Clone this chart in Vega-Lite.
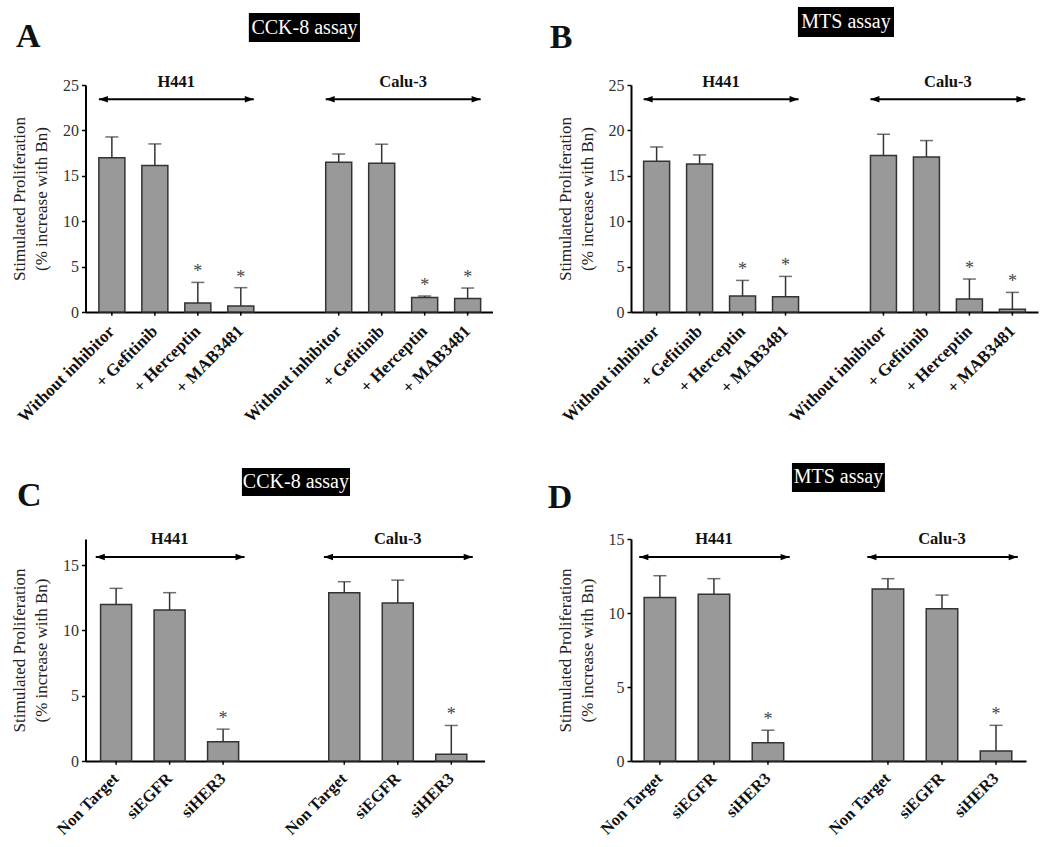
{
  "$schema": "https://vega.github.io/schema/vega-lite/v6.json",
  "background": "white",
  "padding": {"left": 10.5, "top": 7, "right": 5, "bottom": 5},
  "columns": 2,
  "align": "none",
  "bounds": "flush",
  "spacing": {"row": 227, "column": 138.5},
  "resolve": {"scale": {"xOffset": "independent"}},
  "config": {
    "view": {"stroke": null},
    "font": "Liberation Serif",
    "axis": {
      "labelFont": "Liberation Serif", "labelFontSize": 16, "labelColor": "#333333",
      "titleFont": "Liberation Serif", "titleFontSize": 17, "titleFontWeight": "normal", "titleColor": "#222222",
      "titleLineHeight": 22, "titlePadding": 12,
      "domainColor": "#000000", "domainWidth": 2, "tickColor": "#000000", "tickWidth": 1.5, "tickSize": 4,
      "labelPadding": 3, "grid": false
    }
  },
  "concat": [
    {
      "width": 407, "height": 227,
      "data": {"values": [
        {"group": "H441", "treatment": "Without inhibitor", "mean": 17.0, "upper": 19.28, "sig": ""},
        {"group": "H441", "treatment": "+ Gefitinib", "mean": 16.13, "upper": 18.51, "sig": ""},
        {"group": "H441", "treatment": "+ Herceptin", "mean": 0.99, "upper": 3.26, "sig": "*"},
        {"group": "H441", "treatment": "+ MAB3481", "mean": 0.66, "upper": 2.68, "sig": "*"},
        {"group": "Calu-3", "treatment": "Without inhibitor", "mean": 16.5, "upper": 17.41, "sig": ""},
        {"group": "Calu-3", "treatment": "+ Gefitinib", "mean": 16.39, "upper": 18.48, "sig": ""},
        {"group": "Calu-3", "treatment": "+ Herceptin", "mean": 1.61, "upper": 1.76, "sig": "*"},
        {"group": "Calu-3", "treatment": "+ MAB3481", "mean": 1.5, "upper": 2.64, "sig": "*"}
      ]},
      "layer": [
        {"mark": {"type": "bar", "fill": "#999999", "stroke": "#333333", "strokeWidth": 1.5},
         "encoding": {
           "x": {"field": "group", "type": "nominal", "scale": {"domain": ["H441", "Calu-3"], "paddingInner": 0.317, "paddingOuter": 0.0556, "align": 0.53}, "axis": {"title": null, "labels": false, "ticks": false}},
           "xOffset": {"field": "treatment", "type": "nominal", "scale": {"domain": ["Without inhibitor", "+ Gefitinib", "+ Herceptin", "+ MAB3481"], "paddingInner": 0.395, "paddingOuter": 0}},
           "y": {"field": "mean", "type": "quantitative", "scale": {"domain": [0, 25], "nice": false}, "axis": {"title": ["Stimulated Proliferation", "(% increase with Bn)"], "values": [0, 5, 10, 15, 20, 25], "labelFont": "Liberation Serif", "titleFont": "Liberation Serif"}}
         }},
        {"mark": {"type": "rule", "color": "#333333", "strokeWidth": 1.5},
         "encoding": {"x": {"field": "group", "type": "nominal"}, "xOffset": {"field": "treatment", "type": "nominal"}, "y": {"field": "mean", "type": "quantitative"}, "y2": {"field": "upper"}}},
        {"mark": {"type": "tick", "color": "#333333", "thickness": 1.5, "size": 13},
         "encoding": {"x": {"field": "group", "type": "nominal"}, "xOffset": {"field": "treatment", "type": "nominal"}, "y": {"field": "upper", "type": "quantitative"}}},
        {"mark": {"type": "text", "baseline": "alphabetic", "dy": -5, "fontSize": 18, "color": "#444444"},
         "encoding": {"x": {"field": "group", "type": "nominal"}, "xOffset": {"field": "treatment", "type": "nominal"}, "y": {"field": "upper", "type": "quantitative"}, "text": {"field": "sig"}}},
        {"mark": {"type": "rule", "color": "#000000", "strokeWidth": 1.5},
         "encoding": {"x": {"field": "group", "type": "nominal"}, "xOffset": {"field": "treatment", "type": "nominal"}, "y": {"datum": 0, "type": "quantitative"}, "y2": {"datum": -0.4}}},
        {"mark": {"type": "text", "angle": 315, "align": "right", "baseline": "middle", "fontSize": 17, "fontWeight": "bold", "color": "#111111"},
         "encoding": {"x": {"field": "group", "type": "nominal"}, "xOffset": {"field": "treatment", "type": "nominal"}, "y": {"datum": -1.85, "type": "quantitative"}, "text": {"field": "treatment"}}},
        {"data": {"values": [{"group": "H441"}, {"group": "Calu-3"}]},
         "mark": {"type": "rule", "color": "#000000", "strokeWidth": 2},
         "encoding": {"x": {"field": "group", "type": "nominal", "bandPosition": 0}, "x2": {"field": "group", "bandPosition": 1}, "y": {"datum": 23.43, "type": "quantitative"}}},
        {"data": {"values": [{"group": "H441"}, {"group": "Calu-3"}]},
         "mark": {"type": "point", "shape": "M-1,0L1,-0.7L1,0.7Z", "filled": true, "color": "#000000", "opacity": 1, "size": 81},
         "encoding": {"x": {"field": "group", "type": "nominal", "bandPosition": 0.029}, "y": {"datum": 23.43, "type": "quantitative"}}},
        {"data": {"values": [{"group": "H441"}, {"group": "Calu-3"}]},
         "mark": {"type": "point", "shape": "M1,0L-1,-0.7L-1,0.7Z", "filled": true, "color": "#000000", "opacity": 1, "size": 81},
         "encoding": {"x": {"field": "group", "type": "nominal", "bandPosition": 0.971}, "y": {"datum": 23.43, "type": "quantitative"}}},
        {"data": {"values": [{"group": "H441"}, {"group": "Calu-3"}]},
         "mark": {"type": "text", "fontSize": 16.5, "fontWeight": "bold", "color": "#111111", "baseline": "middle"},
         "encoding": {"x": {"field": "group", "type": "nominal"}, "y": {"datum": 25.36, "type": "quantitative"}, "text": {"field": "group"}}},
        {"data": {"values": [{"assay": "CCK-8 assay"}]},
         "mark": {"type": "rect", "fill": "#000000"},
         "encoding": {"x": {"datum": "H441", "type": "nominal", "bandPosition": 0.968}, "x2": {"datum": "Calu-3", "bandPosition": 0.221}, "y": {"datum": 32.93, "type": "quantitative"}, "y2": {"datum": 29.74}}},
        {"data": {"values": [{"assay": "CCK-8 assay"}]},
         "mark": {"type": "text", "fontSize": 20, "color": "#ffffff", "baseline": "middle", "align": "center"},
         "encoding": {"x": {"datum": "Calu-3", "type": "nominal", "bandPosition": -0.137}, "y": {"datum": 31.33, "type": "quantitative"}, "text": {"field": "assay"}}},
        {"data": {"values": [{"panel": "A"}]},
         "mark": {"type": "text", "fontSize": 34, "fontWeight": "bold", "color": "#111111", "align": "left", "baseline": "alphabetic"},
         "encoding": {"x": {"datum": "H441", "type": "nominal", "bandPosition": -0.535}, "y": {"datum": 29.19, "type": "quantitative"}, "text": {"field": "panel"}}}
      ]
    },
    {
      "width": 407, "height": 227,
      "data": {"values": [
        {"group": "H441", "treatment": "Without inhibitor", "mean": 16.6, "upper": 18.18, "sig": ""},
        {"group": "H441", "treatment": "+ Gefitinib", "mean": 16.31, "upper": 17.3, "sig": ""},
        {"group": "H441", "treatment": "+ Herceptin", "mean": 1.76, "upper": 3.48, "sig": "*"},
        {"group": "H441", "treatment": "+ MAB3481", "mean": 1.69, "upper": 3.92, "sig": "*"},
        {"group": "Calu-3", "treatment": "Without inhibitor", "mean": 17.23, "upper": 19.57, "sig": ""},
        {"group": "Calu-3", "treatment": "+ Gefitinib", "mean": 17.08, "upper": 18.88, "sig": ""},
        {"group": "Calu-3", "treatment": "+ Herceptin", "mean": 1.43, "upper": 3.63, "sig": "*"},
        {"group": "Calu-3", "treatment": "+ MAB3481", "mean": 0.29, "upper": 2.16, "sig": "*"}
      ]},
      "layer": [
        {"mark": {"type": "bar", "fill": "#999999", "stroke": "#333333", "strokeWidth": 1.5},
         "encoding": {
           "x": {"field": "group", "type": "nominal", "scale": {"domain": ["H441", "Calu-3"], "paddingInner": 0.317, "paddingOuter": 0.0556, "align": 0.5}, "axis": {"title": null, "labels": false, "ticks": false}},
           "xOffset": {"field": "treatment", "type": "nominal", "scale": {"domain": ["Without inhibitor", "+ Gefitinib", "+ Herceptin", "+ MAB3481"], "paddingInner": 0.395, "paddingOuter": 0}},
           "y": {"field": "mean", "type": "quantitative", "scale": {"domain": [0, 25], "nice": false}, "axis": {"title": ["Stimulated Proliferation", "(% increase with Bn)"], "values": [0, 5, 10, 15, 20, 25], "labelFont": "Liberation Serif", "titleFont": "Liberation Serif"}}
         }},
        {"mark": {"type": "rule", "color": "#333333", "strokeWidth": 1.5},
         "encoding": {"x": {"field": "group", "type": "nominal"}, "xOffset": {"field": "treatment", "type": "nominal"}, "y": {"field": "mean", "type": "quantitative"}, "y2": {"field": "upper"}}},
        {"mark": {"type": "tick", "color": "#333333", "thickness": 1.5, "size": 13},
         "encoding": {"x": {"field": "group", "type": "nominal"}, "xOffset": {"field": "treatment", "type": "nominal"}, "y": {"field": "upper", "type": "quantitative"}}},
        {"mark": {"type": "text", "baseline": "alphabetic", "dy": -5, "fontSize": 18, "color": "#444444"},
         "encoding": {"x": {"field": "group", "type": "nominal"}, "xOffset": {"field": "treatment", "type": "nominal"}, "y": {"field": "upper", "type": "quantitative"}, "text": {"field": "sig"}}},
        {"mark": {"type": "rule", "color": "#000000", "strokeWidth": 1.5},
         "encoding": {"x": {"field": "group", "type": "nominal"}, "xOffset": {"field": "treatment", "type": "nominal"}, "y": {"datum": 0, "type": "quantitative"}, "y2": {"datum": -0.4}}},
        {"mark": {"type": "text", "angle": 315, "align": "right", "baseline": "middle", "fontSize": 17, "fontWeight": "bold", "color": "#111111"},
         "encoding": {"x": {"field": "group", "type": "nominal"}, "xOffset": {"field": "treatment", "type": "nominal"}, "y": {"datum": -1.85, "type": "quantitative"}, "text": {"field": "treatment"}}},
        {"data": {"values": [{"group": "H441"}, {"group": "Calu-3"}]},
         "mark": {"type": "rule", "color": "#000000", "strokeWidth": 2},
         "encoding": {"x": {"field": "group", "type": "nominal", "bandPosition": 0}, "x2": {"field": "group", "bandPosition": 1}, "y": {"datum": 23.43, "type": "quantitative"}}},
        {"data": {"values": [{"group": "H441"}, {"group": "Calu-3"}]},
         "mark": {"type": "point", "shape": "M-1,0L1,-0.7L1,0.7Z", "filled": true, "color": "#000000", "opacity": 1, "size": 81},
         "encoding": {"x": {"field": "group", "type": "nominal", "bandPosition": 0.029}, "y": {"datum": 23.43, "type": "quantitative"}}},
        {"data": {"values": [{"group": "H441"}, {"group": "Calu-3"}]},
         "mark": {"type": "point", "shape": "M1,0L-1,-0.7L-1,0.7Z", "filled": true, "color": "#000000", "opacity": 1, "size": 81},
         "encoding": {"x": {"field": "group", "type": "nominal", "bandPosition": 0.971}, "y": {"datum": 23.43, "type": "quantitative"}}},
        {"data": {"values": [{"group": "H441"}, {"group": "Calu-3"}]},
         "mark": {"type": "text", "fontSize": 16.5, "fontWeight": "bold", "color": "#111111", "baseline": "middle"},
         "encoding": {"x": {"field": "group", "type": "nominal"}, "y": {"datum": 25.36, "type": "quantitative"}, "text": {"field": "group"}}},
        {"data": {"values": [{"assay": "MTS assay"}]},
         "mark": {"type": "rect", "fill": "#000000"},
         "encoding": {"x": {"datum": "H441", "type": "nominal", "bandPosition": 0.996}, "x2": {"datum": "Calu-3", "bandPosition": 0.152}, "y": {"datum": 33.59, "type": "quantitative"}, "y2": {"datum": 30.29}}},
        {"data": {"values": [{"assay": "MTS assay"}]},
         "mark": {"type": "text", "fontSize": 20, "color": "#ffffff", "baseline": "middle", "align": "center"},
         "encoding": {"x": {"datum": "Calu-3", "type": "nominal", "bandPosition": -0.158}, "y": {"datum": 31.94, "type": "quantitative"}, "text": {"field": "assay"}}},
        {"data": {"values": [{"panel": "B"}]},
         "mark": {"type": "text", "fontSize": 34, "fontWeight": "bold", "color": "#111111", "align": "left", "baseline": "alphabetic"},
         "encoding": {"x": {"datum": "H441", "type": "nominal", "bandPosition": -0.606}, "y": {"datum": 29.07, "type": "quantitative"}, "text": {"field": "panel"}}}
      ]
    },
    {
      "width": 399, "height": 222,
      "data": {"values": [
        {"group": "H441", "treatment": "Non Target", "mean": 11.99, "upper": 13.22, "sig": ""},
        {"group": "H441", "treatment": "siEGFR", "mean": 11.56, "upper": 12.89, "sig": ""},
        {"group": "H441", "treatment": "siHER3", "mean": 1.48, "upper": 2.44, "sig": "*"},
        {"group": "Calu-3", "treatment": "Non Target", "mean": 12.89, "upper": 13.73, "sig": ""},
        {"group": "Calu-3", "treatment": "siEGFR", "mean": 12.1, "upper": 13.85, "sig": ""},
        {"group": "Calu-3", "treatment": "siHER3", "mean": 0.51, "upper": 2.72, "sig": "*"}
      ]},
      "layer": [
        {"mark": {"type": "bar", "fill": "#999999", "stroke": "#333333", "strokeWidth": 1.5},
         "encoding": {
           "x": {"field": "group", "type": "nominal", "scale": {"domain": ["H441", "Calu-3"], "paddingInner": 0.395, "paddingOuter": 0.0718, "align": 0.46}, "axis": {"title": null, "labels": false, "ticks": false}},
           "xOffset": {"field": "treatment", "type": "nominal", "scale": {"domain": ["Non Target", "siEGFR", "siHER3"], "paddingInner": 0.42, "paddingOuter": 0}},
           "y": {"field": "mean", "type": "quantitative", "scale": {"domain": [0, 17], "nice": false}, "axis": {"title": ["Stimulated Proliferation", "(% increase with Bn)"], "values": [0, 5, 10, 15], "labelFont": "Liberation Serif", "titleFont": "Liberation Serif"}}
         }},
        {"mark": {"type": "rule", "color": "#333333", "strokeWidth": 1.5},
         "encoding": {"x": {"field": "group", "type": "nominal"}, "xOffset": {"field": "treatment", "type": "nominal"}, "y": {"field": "mean", "type": "quantitative"}, "y2": {"field": "upper"}}},
        {"mark": {"type": "tick", "color": "#333333", "thickness": 1.5, "size": 13},
         "encoding": {"x": {"field": "group", "type": "nominal"}, "xOffset": {"field": "treatment", "type": "nominal"}, "y": {"field": "upper", "type": "quantitative"}}},
        {"mark": {"type": "text", "baseline": "alphabetic", "dy": -5, "fontSize": 18, "color": "#444444"},
         "encoding": {"x": {"field": "group", "type": "nominal"}, "xOffset": {"field": "treatment", "type": "nominal"}, "y": {"field": "upper", "type": "quantitative"}, "text": {"field": "sig"}}},
        {"mark": {"type": "rule", "color": "#000000", "strokeWidth": 1.5},
         "encoding": {"x": {"field": "group", "type": "nominal"}, "xOffset": {"field": "treatment", "type": "nominal"}, "y": {"datum": 0, "type": "quantitative"}, "y2": {"datum": -0.28}}},
        {"mark": {"type": "text", "angle": 315, "align": "right", "baseline": "middle", "fontSize": 16.5, "fontWeight": "bold", "color": "#111111"},
         "encoding": {"x": {"field": "group", "type": "nominal"}, "xOffset": {"field": "treatment", "type": "nominal"}, "y": {"datum": -1.15, "type": "quantitative"}, "text": {"field": "treatment"}}},
        {"data": {"values": [{"group": "H441"}, {"group": "Calu-3"}]},
         "mark": {"type": "rule", "color": "#000000", "strokeWidth": 2},
         "encoding": {"x": {"field": "group", "type": "nominal", "bandPosition": -0.035}, "x2": {"field": "group", "bandPosition": 1.043}, "y": {"datum": 15.62, "type": "quantitative"}}},
        {"data": {"values": [{"group": "H441"}, {"group": "Calu-3"}]},
         "mark": {"type": "point", "shape": "M-1,0L1,-0.7L1,0.7Z", "filled": true, "color": "#000000", "opacity": 1, "size": 81},
         "encoding": {"x": {"field": "group", "type": "nominal", "bandPosition": -0.002}, "y": {"datum": 15.62, "type": "quantitative"}}},
        {"data": {"values": [{"group": "H441"}, {"group": "Calu-3"}]},
         "mark": {"type": "point", "shape": "M1,0L-1,-0.7L-1,0.7Z", "filled": true, "color": "#000000", "opacity": 1, "size": 81},
         "encoding": {"x": {"field": "group", "type": "nominal", "bandPosition": 1.01}, "y": {"datum": 15.62, "type": "quantitative"}}},
        {"data": {"values": [{"group": "H441"}, {"group": "Calu-3"}]},
         "mark": {"type": "text", "fontSize": 16.5, "fontWeight": "bold", "color": "#111111", "baseline": "middle"},
         "encoding": {"x": {"field": "group", "type": "nominal"}, "y": {"datum": 16.98, "type": "quantitative"}, "text": {"field": "group"}}},
        {"data": {"values": [{"assay": "CCK-8 assay"}]},
         "mark": {"type": "rect", "fill": "#000000"},
         "encoding": {"x": {"datum": "Calu-3", "type": "nominal", "bandPosition": -0.629}, "x2": {"datum": "Calu-3", "bandPosition": 0.154}, "y": {"datum": 22.44, "type": "quantitative"}, "y2": {"datum": 20.29}}},
        {"data": {"values": [{"assay": "CCK-8 assay"}]},
         "mark": {"type": "text", "fontSize": 20, "color": "#ffffff", "baseline": "middle", "align": "center"},
         "encoding": {"x": {"datum": "Calu-3", "type": "nominal", "bandPosition": -0.238}, "y": {"datum": 21.36, "type": "quantitative"}, "text": {"field": "assay"}}},
        {"data": {"values": [{"panel": "C"}]},
         "mark": {"type": "text", "fontSize": 34, "fontWeight": "bold", "color": "#111111", "align": "left", "baseline": "alphabetic"},
         "encoding": {"x": {"datum": "H441", "type": "nominal", "bandPosition": -0.606}, "y": {"datum": 19.55, "type": "quantitative"}, "text": {"field": "panel"}}}
      ]
    },
    {
      "width": 395, "height": 222,
      "data": {"values": [
        {"group": "H441", "treatment": "Non Target", "mean": 11.05, "upper": 12.52, "sig": ""},
        {"group": "H441", "treatment": "siEGFR", "mean": 11.26, "upper": 12.32, "sig": ""},
        {"group": "H441", "treatment": "siHER3", "mean": 1.24, "upper": 2.08, "sig": "*"},
        {"group": "Calu-3", "treatment": "Non Target", "mean": 11.62, "upper": 12.32, "sig": ""},
        {"group": "Calu-3", "treatment": "siEGFR", "mean": 10.29, "upper": 11.21, "sig": ""},
        {"group": "Calu-3", "treatment": "siHER3", "mean": 0.68, "upper": 2.41, "sig": "*"}
      ]},
      "layer": [
        {"mark": {"type": "bar", "fill": "#999999", "stroke": "#333333", "strokeWidth": 1.5},
         "encoding": {
           "x": {"field": "group", "type": "nominal", "scale": {"domain": ["H441", "Calu-3"], "paddingInner": 0.388, "paddingOuter": 0.06, "align": 0.48}, "axis": {"title": null, "labels": false, "ticks": false}},
           "xOffset": {"field": "treatment", "type": "nominal", "scale": {"domain": ["Non Target", "siEGFR", "siHER3"], "paddingInner": 0.417, "paddingOuter": 0}},
           "y": {"field": "mean", "type": "quantitative", "scale": {"domain": [0, 15], "nice": false}, "axis": {"title": ["Stimulated Proliferation", "(% increase with Bn)"], "values": [0, 5, 10, 15], "labelFont": "Liberation Serif", "titleFont": "Liberation Serif"}}
         }},
        {"mark": {"type": "rule", "color": "#333333", "strokeWidth": 1.5},
         "encoding": {"x": {"field": "group", "type": "nominal"}, "xOffset": {"field": "treatment", "type": "nominal"}, "y": {"field": "mean", "type": "quantitative"}, "y2": {"field": "upper"}}},
        {"mark": {"type": "tick", "color": "#333333", "thickness": 1.5, "size": 13},
         "encoding": {"x": {"field": "group", "type": "nominal"}, "xOffset": {"field": "treatment", "type": "nominal"}, "y": {"field": "upper", "type": "quantitative"}}},
        {"mark": {"type": "text", "baseline": "alphabetic", "dy": -5, "fontSize": 18, "color": "#444444"},
         "encoding": {"x": {"field": "group", "type": "nominal"}, "xOffset": {"field": "treatment", "type": "nominal"}, "y": {"field": "upper", "type": "quantitative"}, "text": {"field": "sig"}}},
        {"mark": {"type": "rule", "color": "#000000", "strokeWidth": 1.5},
         "encoding": {"x": {"field": "group", "type": "nominal"}, "xOffset": {"field": "treatment", "type": "nominal"}, "y": {"datum": 0, "type": "quantitative"}, "y2": {"datum": -0.25}}},
        {"mark": {"type": "text", "angle": 315, "align": "right", "baseline": "middle", "fontSize": 16.5, "fontWeight": "bold", "color": "#111111"},
         "encoding": {"x": {"field": "group", "type": "nominal"}, "xOffset": {"field": "treatment", "type": "nominal"}, "y": {"datum": -1.0, "type": "quantitative"}, "text": {"field": "treatment"}}},
        {"data": {"values": [{"group": "H441"}, {"group": "Calu-3"}]},
         "mark": {"type": "rule", "color": "#000000", "strokeWidth": 2},
         "encoding": {"x": {"field": "group", "type": "nominal", "bandPosition": -0.035}, "x2": {"field": "group", "bandPosition": 1.043}, "y": {"datum": 13.78, "type": "quantitative"}}},
        {"data": {"values": [{"group": "H441"}, {"group": "Calu-3"}]},
         "mark": {"type": "point", "shape": "M-1,0L1,-0.7L1,0.7Z", "filled": true, "color": "#000000", "opacity": 1, "size": 81},
         "encoding": {"x": {"field": "group", "type": "nominal", "bandPosition": -0.002}, "y": {"datum": 13.78, "type": "quantitative"}}},
        {"data": {"values": [{"group": "H441"}, {"group": "Calu-3"}]},
         "mark": {"type": "point", "shape": "M1,0L-1,-0.7L-1,0.7Z", "filled": true, "color": "#000000", "opacity": 1, "size": 81},
         "encoding": {"x": {"field": "group", "type": "nominal", "bandPosition": 1.01}, "y": {"datum": 13.78, "type": "quantitative"}}},
        {"data": {"values": [{"group": "H441"}, {"group": "Calu-3"}]},
         "mark": {"type": "text", "fontSize": 16.5, "fontWeight": "bold", "color": "#111111", "baseline": "middle"},
         "encoding": {"x": {"field": "group", "type": "nominal"}, "y": {"datum": 15.0, "type": "quantitative"}, "text": {"field": "group"}}},
        {"data": {"values": [{"assay": "MTS assay"}]},
         "mark": {"type": "rect", "fill": "#000000"},
         "encoding": {"x": {"datum": "Calu-3", "type": "nominal", "bandPosition": -0.575}, "x2": {"datum": "Calu-3", "bandPosition": 0.091}, "y": {"datum": 20.14, "type": "quantitative"}, "y2": {"datum": 18.18}}},
        {"data": {"values": [{"assay": "MTS assay"}]},
         "mark": {"type": "text", "fontSize": 20, "color": "#ffffff", "baseline": "middle", "align": "center"},
         "encoding": {"x": {"datum": "Calu-3", "type": "nominal", "bandPosition": -0.242}, "y": {"datum": 19.16, "type": "quantitative"}, "text": {"field": "assay"}}},
        {"data": {"values": [{"panel": "D"}]},
         "mark": {"type": "text", "fontSize": 34, "fontWeight": "bold", "color": "#111111", "align": "left", "baseline": "alphabetic"},
         "encoding": {"x": {"datum": "H441", "type": "nominal", "bandPosition": -0.69}, "y": {"datum": 17.09, "type": "quantitative"}, "text": {"field": "panel"}}}
      ]
    }
  ]
}
